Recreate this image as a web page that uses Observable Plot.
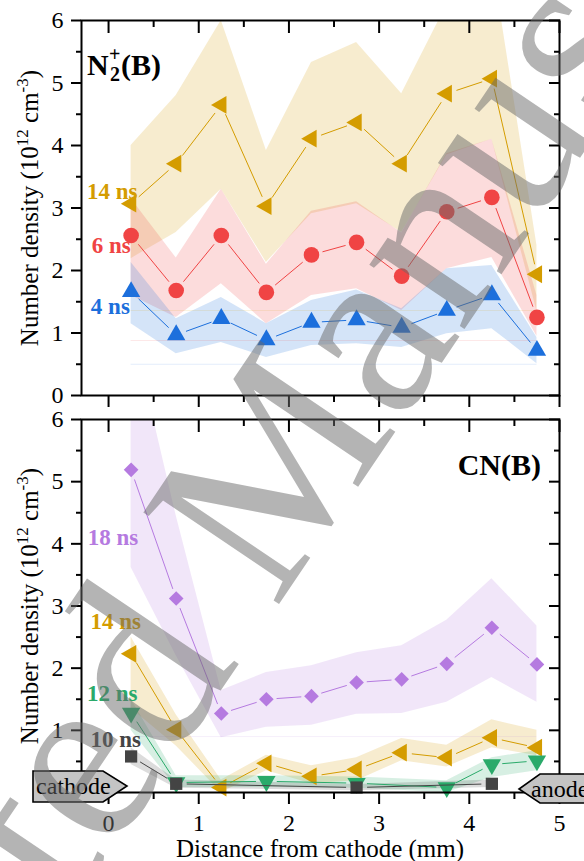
<!DOCTYPE html>
<html>
<head>
<meta charset="utf-8">
<script src="https://cdn.jsdelivr.net/npm/d3@7"></script>
<script src="https://cdn.jsdelivr.net/npm/@observablehq/plot@0.6"></script>
<style>
  body { margin: 0; background: #fff; }
  #wrap { position: relative; width: 584px; height: 861px; overflow: hidden; }
  #wrap > svg { position: absolute; left: 0; }
</style>
</head>
<body>
<div id="wrap"></div>
<script>
// ---------- data ----------
const X = [0.25, 0.75, 1.25, 1.75, 2.25, 2.75, 3.25, 3.75, 4.25, 4.75];

// N2+(B) panel
const n2_14 = [3.07, 3.71, 4.65, 3.03, 4.11, 4.37, 3.71, 4.83, 5.07, 1.94];
const n2_14_lo = [2.19, 2.61, 3.30, 2.13, 2.91, 3.07, 2.61, 3.85, 4.10, 1.35];
const n2_14_hi = [4.00, 4.80, 6.00, 3.92, 5.33, 5.65, 4.83, 6.25, 7.00, 2.40];

const n2_6 = [2.56, 1.68, 2.56, 1.65, 2.25, 2.45, 1.91, 2.94, 3.17, 1.25];
const n2_6_lo = [1.60, 1.25, 1.79, 1.15, 1.60, 1.71, 1.36, 2.03, 2.21, 0.95];
const n2_6_hi = [3.15, 2.20, 3.30, 2.10, 2.95, 3.10, 2.60, 3.87, 4.10, 1.60];

const n2_4 = [1.66, 0.97, 1.23, 0.89, 1.17, 1.21, 1.09, 1.36, 1.61, 0.72];
const n2_4_lo = [1.15, 0.67, 0.85, 0.61, 0.80, 0.83, 0.77, 0.99, 1.07, 0.51];
const n2_4_hi = [2.13, 1.23, 1.57, 1.15, 1.52, 1.69, 1.39, 2.03, 2.08, 0.93];

const n2_base = [1.36, 0.88, 0.50];   // faint baselines (14, 6, 4 ns)

// CN(B) panel
const cn_18 = [5.19, 3.12, 1.27, 1.50, 1.55, 1.77, 1.82, 2.07, 2.65, 2.06];
const cn_18_lo = [3.62, 2.20, 0.88, 1.05, 1.08, 1.26, 1.27, 1.45, 1.85, 1.45];
const cn_18_hi = [7.55, 4.45, 1.64, 1.93, 2.04, 2.25, 2.36, 2.77, 3.44, 2.68];

const cn_14 = [2.23, 1.01, 0.08, 0.47, 0.26, 0.37, 0.64, 0.56, 0.88, 0.72];
const cn_14_lo = [1.35, 0.75, 0.00, 0.35, 0.14, 0.19, 0.51, 0.41, 0.72, 0.59];
const cn_14_hi = [2.50, 1.25, 0.20, 0.60, 0.43, 0.56, 0.87, 0.76, 1.17, 1.00];

const X12 = [0.25, 0.75, 1.75, 2.75, 3.75, 4.25, 4.75];
const cn_12 = [1.28, 0.16, 0.18, 0.15, 0.08, 0.45, 0.51];
const cn_12_lo = [1.00, 0.08, 0.08, 0.07, 0.00, 0.24, 0.35];
const cn_12_hi = [1.50, 0.27, 0.27, 0.25, 0.19, 0.56, 0.67];

const X10 = [0.25, 0.75, 2.75, 4.25];
const cn_10 = [0.58, 0.14, 0.08, 0.14];
const cn_10_lo = [0.45, 0.07, 0.03, 0.08];
const cn_10_hi = [0.72, 0.20, 0.13, 0.20];

const cn_base = [0.90];

const yTicks = [0, 1, 2, 3, 4, 5, 6];
const yMinor = [0.5, 1.5, 2.5, 3.5, 4.5, 5.5];
const xTicks = [0, 1, 2, 3, 4, 5];
const xMinor = [0.5, 1.5, 2.5, 3.5, 4.5];

// ---------- styles ----------
const GOLD = "#d49c00", RED = "#f04444", BLUE = "#1c6fdc", PURPLE = "#b57ae0", GREEN = "#2aaa6a", GRAY = "#444444";
const FONT = "Liberation Serif, Tinos, Times New Roman, Times, DejaVu Serif, serif";

function rows(xs, ys, lo, hi) {
  return xs.map((x, i) => ({x, y: ys[i], lo: lo[i], hi: hi[i]}));
}
function segments(data) {
  return data.slice(1).map((d, i) => ({x1: data[i].x, y1: data[i].y, x2: d.x, y2: d.y}));
}

const topSeries = [
  {label: "14 ns", color: GOLD, symbol: "triangle", rotate: -90, r: 6.6, data: rows(X, n2_14, n2_14_lo, n2_14_hi), lx: 0.04, ly: 3.26},
  {label: "6 ns", color: RED, symbol: "circle", rotate: 0, r: 7.8, data: rows(X, n2_6, n2_6_lo, n2_6_hi), lx: 0.03, ly: 2.40},
  {label: "4 ns", color: BLUE, symbol: "triangle", rotate: 0, r: 6.8, data: rows(X, n2_4, n2_4_lo, n2_4_hi), lx: 0.02, ly: 1.42}
];
const botSeries = [
  {label: "18 ns", color: PURPLE, symbol: "diamond2", rotate: 0, r: 6.6, data: rows(X, cn_18, cn_18_lo, cn_18_hi), lx: 0.05, ly: 4.10},
  {label: "14 ns", color: GOLD, symbol: "triangle", rotate: -90, r: 6.6, data: rows(X, cn_14, cn_14_lo, cn_14_hi), lx: 0.08, ly: 2.75},
  {label: "12 ns", color: GREEN, symbol: "triangle", rotate: 180, r: 6.8, data: rows(X12, cn_12, cn_12_lo, cn_12_hi), lx: 0.04, ly: 1.59},
  {label: "10 ns", color: GRAY, symbol: "square", rotate: 0, r: 6.9, data: rows(X10, cn_10, cn_10_lo, cn_10_hi), lx: 0.08, ly: 0.85}
];

function seriesMarks(series, bases) {
  const m = [];
  series.forEach(s => m.push(Plot.areaY(s.data, {x: "x", y1: "lo", y2: "hi", fill: s.color, fillOpacity: 0.19, clip: true})));
  bases.forEach((b, i) => m.push(Plot.ruleY([b], {x1: X[0], x2: X[X.length - 1], stroke: series[i].color, strokeOpacity: 0.12, strokeWidth: 1})));
  series.forEach(s => {
    // connecting lines with small gaps at the markers
    m.push(Plot.arrow(segments(s.data), {x1: "x1", y1: "y1", x2: "x2", y2: "y2", stroke: s.color, strokeWidth: 1,
      headLength: 0, inset: s.r + 4, clip: true}));
    m.push(Plot.dot(s.data, {x: "x", y: "y", symbol: s.symbol, rotate: s.rotate, r: s.r, fill: s.color, stroke: "none"}));
  });
  series.forEach(s => m.push(Plot.text([{x: s.lx, y: s.ly, t: s.label}], {
    x: "x", y: "y", text: "t", fill: s.color, fontSize: 23, fontWeight: "bold", fontFamily: FONT,
    textAnchor: "middle", lineAnchor: "middle"
  })));
  return m;
}

function axisMarks(showY0, showX) {
  const blank = () => "";
  return [
    Plot.axisY(yTicks, {anchor: "left", tickSize: 10, tickPadding: 8, strokeWidth: 2, fontSize: 24, fontFamily: FONT, label: null,
      tickFormat: d => (d === 0 && !showY0) ? "" : String(d)}),
    Plot.axisY(yMinor, {anchor: "left", tickSize: 5, strokeWidth: 2, tickFormat: blank, label: null}),
    Plot.axisY(yTicks, {anchor: "right", tickSize: 11, dx: -11, strokeWidth: 2, tickFormat: blank, label: null}),
    Plot.axisY(yMinor, {anchor: "right", tickSize: 6, dx: -6, strokeWidth: 2, tickFormat: blank, label: null}),
    Plot.axisX(xTicks, {anchor: "bottom", tickSize: 12, tickPadding: 9, strokeWidth: 2, fontSize: 24, fontFamily: FONT, label: null,
      tickFormat: showX ? (d => String(d)) : blank}),
    Plot.axisX(xMinor, {anchor: "bottom", tickSize: 7, strokeWidth: 2, tickFormat: blank, label: null}),
    Plot.axisX(xTicks, {anchor: "top", tickSize: 12, dy: 12, strokeWidth: 2, tickFormat: blank, label: null}),
    Plot.axisX(xMinor, {anchor: "top", tickSize: 6, dy: 6, strokeWidth: 2, tickFormat: blank, label: null}),
    Plot.frame({stroke: "black", strokeWidth: 2})
  ];
}

const common = {
  width: 584,
  marginLeft: 81, marginRight: 25,
  x: {domain: [-0.3, 5]},
  y: {domain: [0, 6]},
  style: {fontFamily: FONT, fontSize: "24px", color: "black", background: "transparent", overflow: "visible"}
};

const wrap = document.getElementById("wrap");

// ---------- top panel ----------
const topPlot = Plot.plot({
  ...common, height: 405, marginTop: 20, marginBottom: 10,
  marks: [...seriesMarks(topSeries, n2_base), ...axisMarks(true, false)]
});
topPlot.style.top = "0px";
wrap.appendChild(topPlot);

// ---------- bottom panel ----------
const botPlot = Plot.plot({
  ...common, height: 456, marginTop: 14, marginBottom: 69,
  marks: [...seriesMarks(botSeries, cn_base), ...axisMarks(false, true)]
});
botPlot.style.top = "405px";
wrap.appendChild(botPlot);

function txt(sel) {
  return sel.append("text").style("font-family", FONT).attr("fill", "black").attr("text-anchor", "start");
}

function yTitle(svg, cy) {
  const t = txt(d3.select(svg))
    .attr("transform", `translate(38,${cy}) rotate(-90)`)
    .attr("text-anchor", "middle").attr("font-size", 25);
  t.append("tspan").text("Number density (10");
  t.append("tspan").attr("font-size", 17).attr("dy", -10).text("12");
  t.append("tspan").attr("dy", 10).text(" cm");
  t.append("tspan").attr("font-size", 17).attr("dy", -10).text("-3");
  t.append("tspan").attr("dy", 10).text(")");
}
yTitle(topPlot, 208);
yTitle(botPlot, 201);

// species labels
{
  const s = d3.select(topPlot);
  txt(s).attr("x", 87).attr("y", 75).attr("font-size", 30).attr("font-weight", "bold").text("N");
  txt(s).attr("x", 110).attr("y", 81).attr("font-size", 20).attr("font-weight", "bold").text("2");
  txt(s).attr("x", 109).attr("y", 61).attr("font-size", 20).attr("font-weight", "bold").text("+");
  txt(s).attr("x", 121).attr("y", 75).attr("font-size", 30).attr("font-weight", "bold").text("(B)");
  txt(d3.select(botPlot)).attr("x", 541).attr("y", 70).attr("text-anchor", "end")
    .attr("font-weight", "bold").attr("font-size", 30).text("CN(B)");
}

// x title
txt(d3.select(botPlot)).attr("x", 320).attr("y", 452).attr("text-anchor", "middle")
  .attr("font-size", 25).text("Distance from cathode (mm)");

// electrode tags
{
  const g = d3.select(botPlot).append("g");
  g.append("path").attr("d", "M33,366 H103 L127,381 L103,397 H33 Z").attr("fill", "#c4c4c4").attr("stroke", "black").attr("stroke-width", 1.6);
  txt(g).attr("x", 36).attr("y", 389).attr("font-size", 24).text("cathode");
  g.append("path").attr("d", "M600,369 H540 L519,384 L540,398 H600 Z").attr("fill", "#c4c4c4").attr("stroke", "black").attr("stroke-width", 1.6);
  txt(g).attr("x", 531).attr("y", 392).attr("font-size", 24).text("anode");
}

// watermark overlay
{
  const svg = d3.select(wrap).append("svg").attr("width", 584).attr("height", 861)
    .style("top", "0px").style("pointer-events", "none");
  const g = svg.append("g").attr("transform", "translate(275,610) rotate(-56)");
  txt(g).attr("x", 0).attr("y", 0).attr("font-size", 250).attr("fill", "#6a6a6a").attr("fill-opacity", 0.5).text("Manuscript");
  txt(g).attr("x", -62).attr("y", 0).attr("text-anchor", "end").attr("font-size", 250).attr("fill", "#6a6a6a").attr("fill-opacity", 0.5).text("Accepted");
}
</script>
</body>
</html>
